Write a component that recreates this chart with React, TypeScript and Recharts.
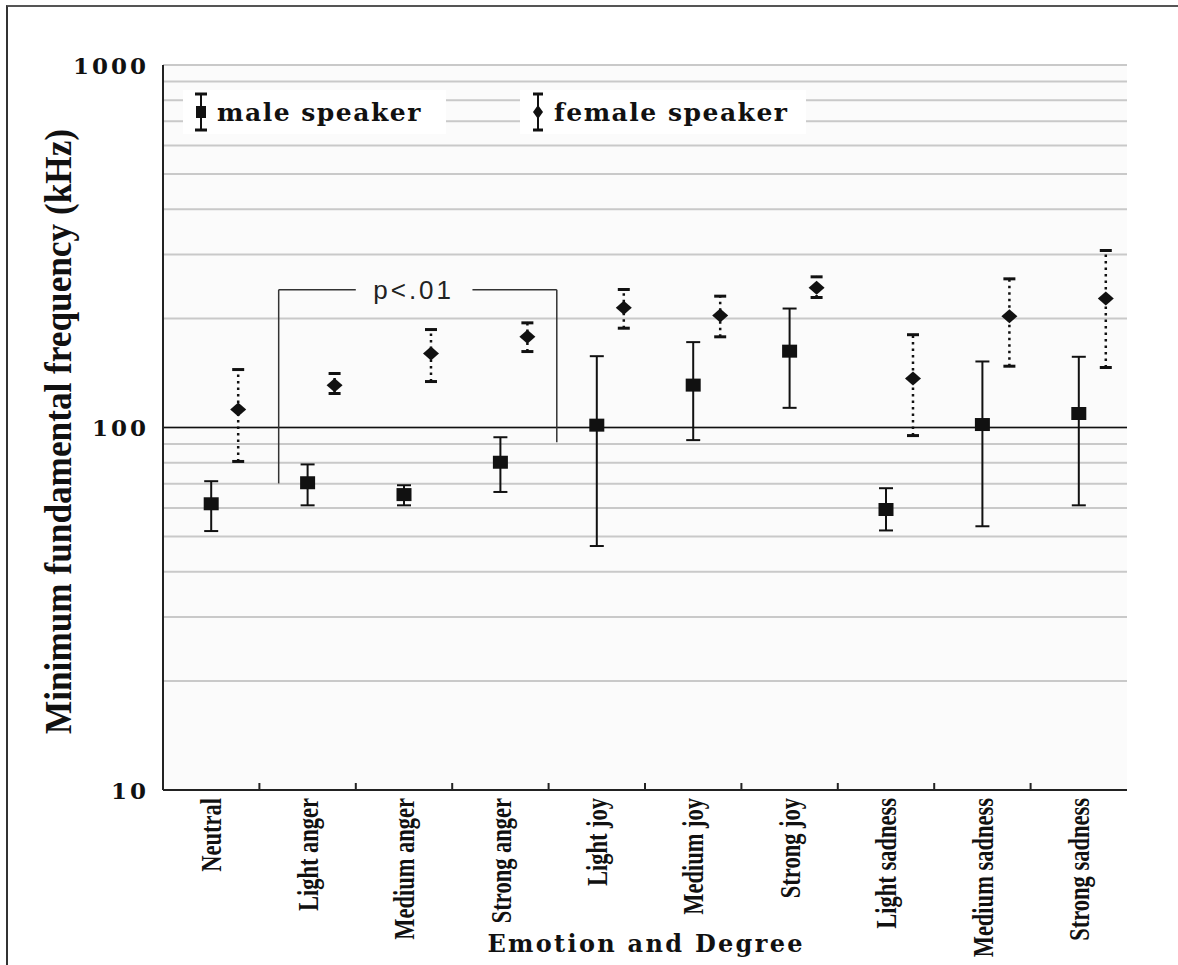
import React from "react";
import {
  ScatterChart,
  Scatter,
  XAxis,
  YAxis,
  CartesianGrid,
  ErrorBar,
  ReferenceLine,
  ReferenceDot,
  Legend,
  Label,
} from "recharts";

// ─── Data (values in Hz on a log scale) ────────────────────────────────────
const CATEGORIES = [
  "Neutral",
  "Light anger",
  "Medium anger",
  "Strong anger",
  "Light joy",
  "Medium joy",
  "Strong joy",
  "Light sadness",
  "Medium sadness",
  "Strong sadness",
];

const MALE_MEAN = [61.6, 70.4, 65.3, 80.2, 101.5, 130.9, 162.4, 59.4, 101.9, 109.3];
const MALE_LOW = [51.8, 61.0, 61.0, 66.4, 47.1, 92.3, 113.3, 52.0, 53.4, 61.0];
const MALE_HIGH = [71.1, 79.1, 69.3, 94.0, 157.3, 172.0, 212.9, 68.0, 152.1, 156.7];

const FEMALE_MEAN = [112.1, 130.8, 160.0, 177.9, 213.9, 203.7, 242.8, 136.5, 202.8, 227.0];
const FEMALE_LOW = [80.6, 124.1, 133.9, 162.0, 187.9, 177.9, 228.4, 95.0, 147.6, 146.4];
const FEMALE_HIGH = [144.5, 140.9, 186.3, 194.4, 240.3, 230.3, 260.4, 180.3, 257.1, 307.8];

const Y_TICKS = [
  10, 20, 30, 40, 50, 60, 70, 80, 90,
  100, 200, 300, 400, 500, 600, 700, 800, 900, 1000,
];
const Y_LABELED = [10, 100, 1000];

// significance bracket, in data units
const BRACKET_X = [1.2, 4.085];
const BRACKET_GAP = [2.0, 3.21];
const BRACKET_TOP = 240;
const BRACKET_FEET = [70.1, 91];
const P_TEXT = "p<.01";
const P_X = 2.6;

// female points sit a bit to the right of the category centre
const FEMALE_SHIFT = 0.28;

// ─── Derived tables ────────────────────────────────────────────────────────
const maleData = CATEGORIES.map((c, i) => ({
  name: c,
  x: i + 0.5,
  y: MALE_MEAN[i],
  err: [MALE_MEAN[i] - MALE_LOW[i], MALE_HIGH[i] - MALE_MEAN[i]],
}));

const femaleData = CATEGORIES.map((c, i) => ({
  name: c,
  x: i + 0.5 + FEMALE_SHIFT,
  y: FEMALE_MEAN[i],
  err: [FEMALE_MEAN[i] - FEMALE_LOW[i], FEMALE_HIGH[i] - FEMALE_MEAN[i]],
}));

const femaleCaps = CATEGORIES.flatMap((c, i) => [
  { name: c, x: i + 0.5 + FEMALE_SHIFT, y: FEMALE_LOW[i] },
  { name: c, x: i + 0.5 + FEMALE_SHIFT, y: FEMALE_HIGH[i] },
]);

// label ticks at category centres, tick marks at boundaries
const X_TICKS = CATEGORIES.flatMap((_, i) => (i === 0 ? [0.5] : [i, i + 0.5]));

const SERIF = "'Liberation Serif', 'Times New Roman', serif";
const WIDE_SERIF = "'DejaVu Serif', serif";
const INK = "#111";

// ─── Shapes & ticks ────────────────────────────────────────────────────────
function SquareShape(props: any) {
  const { cx, cy } = props;
  return <rect x={cx - 7.5} y={cy - 6.5} width={15} height={13} fill={INK} />;
}

function DiamondShape(props: any) {
  const { cx, cy } = props;
  return (
    <polygon
      points={`${cx - 8},${cy} ${cx},${cy - 7} ${cx + 8},${cy} ${cx},${cy + 7}`}
      fill={INK}
    />
  );
}

function CapShape(props: any) {
  const { cx, cy } = props;
  return (
    <line x1={cx - 6} x2={cx + 6} y1={cy} y2={cy} stroke={INK} strokeWidth={3} />
  );
}

function XTick(props: any) {
  const { x, y, payload } = props;
  const v = payload.value as number;
  if (Number.isInteger(v)) {
    return <line x1={x} x2={x} y1={y} y2={y - 7} stroke="#222" strokeWidth={2} />;
  }
  return (
    <text
      transform={`translate(${x},${y + 8}) rotate(-90) scale(1,1.35)`}
      textAnchor="end"
      dominantBaseline="central"
      fontFamily={SERIF}
      fontWeight="bold"
      fontSize={22.5}
      fill={INK}
    >
      {CATEGORIES[Math.floor(v)]}
    </text>
  );
}

function YTick(props: any) {
  const { x, y, payload } = props;
  if (!Y_LABELED.includes(payload.value)) return <g />;
  return (
    <text
      x={x}
      y={y}
      textAnchor="end"
      dominantBaseline="central"
      fontFamily={WIDE_SERIF}
      fontWeight="bold"
      fontSize={23}
      letterSpacing={3}
      fill={INK}
    >
      {payload.value}
    </text>
  );
}

// ─── Legend ────────────────────────────────────────────────────────────────
function MaleIcon() {
  return (
    <svg width={20} height={40}>
      <line x1={10} x2={10} y1={2} y2={38} stroke={INK} strokeWidth={2} />
      <line x1={4} x2={16} y1={2} y2={2} stroke={INK} strokeWidth={3} />
      <line x1={4} x2={16} y1={38} y2={38} stroke={INK} strokeWidth={3} />
      <rect x={5} y={14} width={10} height={12} fill={INK} />
    </svg>
  );
}

function FemaleIcon() {
  return (
    <svg width={20} height={40}>
      <line x1={10} x2={10} y1={2} y2={38} stroke={INK} strokeWidth={2} />
      <line x1={5} x2={15} y1={2} y2={2} stroke={INK} strokeWidth={3} />
      <line x1={5} x2={15} y1={38} y2={38} stroke={INK} strokeWidth={3} />
      <polygon points="5,20 10,13 15,20 10,27" fill={INK} />
    </svg>
  );
}

const legendText: React.CSSProperties = {
  fontFamily: WIDE_SERIF,
  fontWeight: 700,
  fontSize: 25,
  letterSpacing: 1.5,
  color: INK,
  marginLeft: 6,
};

function LegendContent() {
  return (
    <div style={{ position: "relative", width: 620, height: 44 }}>
      <div
        style={{
          position: "absolute",
          left: 0,
          top: 0,
          width: 255,
          height: 44,
          background: "#fff",
          display: "flex",
          alignItems: "center",
          paddingLeft: 8,
        }}
      >
        <MaleIcon />
        <span style={legendText}>male speaker</span>
      </div>
      <div
        style={{
          position: "absolute",
          left: 337,
          top: 0,
          width: 278,
          height: 44,
          background: "#fff",
          display: "flex",
          alignItems: "center",
          paddingLeft: 8,
        }}
      >
        <FemaleIcon />
        <span style={legendText}>female speaker</span>
      </div>
    </div>
  );
}

// ─── Chart ─────────────────────────────────────────────────────────────────
export default function App() {
  return (
    <div
      style={{
        position: "absolute",
        left: 0,
        top: 0,
        width: 1178,
        height: 965,
        background: "#fff",
        overflow: "hidden",
      }}
    >
      <div
        style={{
          position: "absolute",
          left: 6,
          top: 5,
          right: 0,
          bottom: 0,
          borderLeft: "2px solid #333",
          borderTop: "2px solid #555",
        }}
      />
      <ScatterChart
        width={1178}
        height={965}
        margin={{ top: 65, right: 51, bottom: 0, left: 0 }}
      >
        <CartesianGrid
          vertical={false}
          stroke="#c9c9c9"
          strokeWidth={2}
          fill="#fbfbfb"
        />
        <XAxis
          xAxisId="top"
          orientation="top"
          type="number"
          domain={[0, 10]}
          height={0}
          tick={false}
          tickLine={false}
          axisLine={{ stroke: "#555", strokeWidth: 2 }}
        />
        <YAxis
          yAxisId="right"
          orientation="right"
          type="number"
          domain={[0, 1]}
          width={0}
          tick={false}
          tickLine={false}
          axisLine={{ stroke: "#777", strokeWidth: 2 }}
        />
        <XAxis
          dataKey="x"
          type="number"
          domain={[0, 10]}
          ticks={X_TICKS}
          interval={0}
          height={175}
          tickLine={false}
          tickSize={0}
          tickMargin={0}
          tick={<XTick />}
          axisLine={{ stroke: "#222", strokeWidth: 2 }}
        >
          <Label
            content={(p: any) => {
              const vb = p.viewBox;
              return (
                <text
                  x={vb.x + vb.width / 2}
                  y={vb.y + vb.height - 13}
                  textAnchor="middle"
                  fontFamily={WIDE_SERIF}
                  fontWeight="bold"
                  fontSize={24}
                  textLength={315}
                  lengthAdjust="spacing"
                  fill={INK}
                >
                  Emotion and Degree
                </text>
              );
            }}
          />
        </XAxis>
        <YAxis
          dataKey="y"
          type="number"
          scale="log"
          domain={[10, 1000]}
          allowDataOverflow
          ticks={Y_TICKS}
          interval={0}
          width={163}
          tickLine={false}
          tickSize={0}
          tickMargin={14}
          tick={<YTick />}
          axisLine={{ stroke: "#222", strokeWidth: 2 }}
        >
          <Label
            content={(p: any) => {
              const vb = p.viewBox;
              const cx = 58;
              const cy = vb.y + vb.height / 2 + 4;
              return (
                <text
                  transform={`translate(${cx},${cy}) rotate(-90)`}
                  textAnchor="middle"
                  dominantBaseline="central"
                  fontFamily={SERIF}
                  fontWeight="bold"
                  fontSize={37}
                  textLength={605}
                  lengthAdjust="spacingAndGlyphs"
                  fill={INK}
                >
                  Minimum fundamental frequency (kHz)
                </text>
              );
            }}
          />
        </YAxis>

        <ReferenceLine y={100} stroke={INK} strokeWidth={1.5} />

        {/* significance bracket */}
        <ReferenceLine
          segment={[
            { x: BRACKET_X[0], y: BRACKET_TOP },
            { x: BRACKET_GAP[0], y: BRACKET_TOP },
          ]}
          stroke="#333"
          strokeWidth={1.5}
        />
        <ReferenceLine
          segment={[
            { x: BRACKET_GAP[1], y: BRACKET_TOP },
            { x: BRACKET_X[1], y: BRACKET_TOP },
          ]}
          stroke="#333"
          strokeWidth={1.5}
        />
        <ReferenceLine
          segment={[
            { x: BRACKET_X[0], y: BRACKET_TOP },
            { x: BRACKET_X[0], y: BRACKET_FEET[0] },
          ]}
          stroke="#333"
          strokeWidth={1.5}
        />
        <ReferenceLine
          segment={[
            { x: BRACKET_X[1], y: BRACKET_TOP },
            { x: BRACKET_X[1], y: BRACKET_FEET[1] },
          ]}
          stroke="#333"
          strokeWidth={1.5}
        />
        <ReferenceDot
          x={P_X}
          y={BRACKET_TOP}
          r={0}
          fill="none"
          stroke="none"
          label={{
            value: P_TEXT,
            position: "center",
            fontFamily: "'Liberation Sans', Arial, sans-serif",
            fontSize: 26,
            letterSpacing: 3,
            fill: "#222",
          }}
        />

        <Scatter
          name="male speaker"
          data={maleData}
          shape={SquareShape}
          isAnimationActive={false}
        >
          <ErrorBar
            dataKey="err"
            direction="y"
            width={7}
            stroke={INK}
            strokeWidth={2}
            isAnimationActive={false}
          />
        </Scatter>
        <Scatter
          name="female speaker"
          data={femaleData}
          shape={DiamondShape}
          isAnimationActive={false}
        >
          <ErrorBar
            dataKey="err"
            direction="y"
            width={0}
            stroke={INK}
            strokeWidth={2.5}
            strokeDasharray="2.5 4"
            isAnimationActive={false}
          />
        </Scatter>
        <Scatter
          name="female caps"
          data={femaleCaps}
          shape={CapShape}
          legendType="none"
          isAnimationActive={false}
        />

        <Legend
          layout="horizontal"
          verticalAlign="middle"
          align="center"
          wrapperStyle={{ top: 90, left: 183, width: 620, height: 44 }}
          content={<LegendContent />}
        />
      </ScatterChart>
    </div>
  );
}
